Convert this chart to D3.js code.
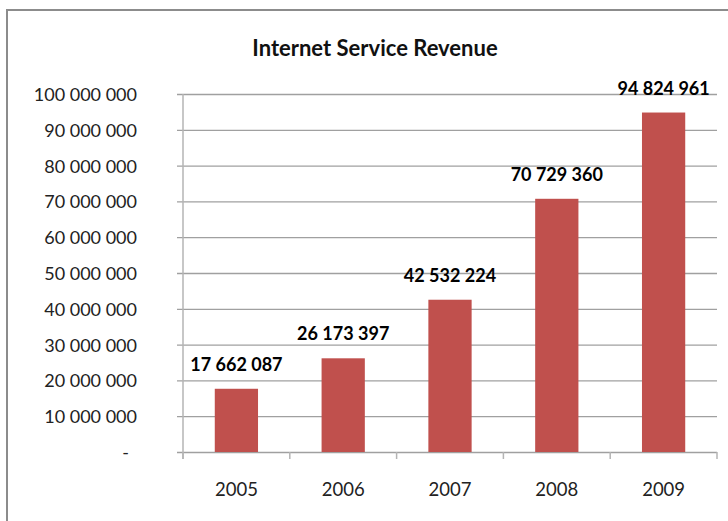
<!DOCTYPE html>
<html>
<head>
<meta charset="utf-8">
<script src="https://cdn.jsdelivr.net/npm/d3@7"></script>
<style>
  html, body { margin: 0; padding: 0; background: #fff; }
  svg { display: block; }
</style>
</head>
<body>
<svg id="chart" width="728" height="521"></svg>
<script>
// Revenue per year
const years = ["2005", "2006", "2007", "2008", "2009"];
const revenue = [17662087, 26173397, 42532224, 70729360, 94824961];
const yTicks = [0, 10000000, 20000000, 30000000, 40000000, 50000000,
                60000000, 70000000, 80000000, 90000000, 100000000];
const title = "Internet Service Revenue";

const svg = d3.select("#chart");
const W = 728, H = 521;
const plot = { left: 183, right: 717, top: 94, bottom: 452 };
const FONT = "Lato, 'Open Sans', sans-serif";

// thousands separated by spaces, zero shown as a dash
const fmt = v => v === 0 ? "-" : d3.format(",")(v).replace(/,/g, " ");

// chart frame
svg.append("path")
  .attr("d", `M7,${H + 2} L7,10 L${W + 2},10`)
  .attr("fill", "none")
  .attr("stroke", "#8c8c8c")
  .attr("stroke-width", 2);

svg.append("text")
  .attr("x", 375).attr("y", 56)
  .attr("text-anchor", "middle")
  .attr("font-family", FONT)
  .attr("font-weight", 700)
  .attr("font-size", 22)
  .attr("fill", "#111")
  .text(title);

const x = d3.scaleBand()
  .domain(years)
  .range([plot.left, plot.right])
  .paddingInner(0.595)
  .paddingOuter(0.2975);

const y = d3.scaleLinear()
  .domain([0, 100000000])
  .range([plot.bottom, plot.top]);

// value axis with gridlines
const yAxis = d3.axisLeft(y)
  .tickValues(yTicks)
  .tickSize(-(plot.right - plot.left))
  .tickSizeOuter(0)
  .tickPadding(0)
  .tickFormat(fmt);

const gy = svg.append("g")
  .attr("transform", `translate(${plot.left},0)`)
  .call(yAxis);
gy.select(".domain").remove();
gy.selectAll(".tick line")
  .attr("x1", -6)
  .attr("stroke", "#a0a0a0")
  .attr("stroke-width", 1.3);
gy.selectAll(".tick text")
  .attr("x", d => d === 0 ? -54 : -46)
  .attr("dy", "0.36em")
  .attr("font-family", FONT)
  .attr("font-size", 18)
  .attr("fill", "#222");

// vertical axis line
svg.append("line")
  .attr("x1", plot.left).attr("x2", plot.left)
  .attr("y1", plot.top).attr("y2", plot.bottom + 7)
  .attr("stroke", "#b4b4b4")
  .attr("stroke-width", 1.5);

// category axis
const xAxis = d3.axisBottom(x).tickSize(0).tickPadding(0);
const gx = svg.append("g")
  .attr("transform", `translate(0,${plot.bottom})`)
  .call(xAxis);
gx.select(".domain").remove();
gx.selectAll(".tick text")
  .attr("dy", 0)
  .attr("y", 44)
  .attr("font-family", FONT)
  .attr("font-size", 18.5)
  .attr("fill", "#222");

// category boundary ticks
const step = x.step();
const bounds = d3.range(years.length + 1).map(i => plot.left + i * step);
svg.append("g").selectAll("line")
  .data(bounds)
  .join("line")
  .attr("x1", d => d).attr("x2", d => d)
  .attr("y1", plot.bottom).attr("y2", plot.bottom + 7)
  .attr("stroke", "#b4b4b4")
  .attr("stroke-width", 1.5);

// bars
svg.append("g").selectAll("rect")
  .data(years)
  .join("rect")
  .attr("x", (d) => x(d))
  .attr("width", x.bandwidth())
  .attr("y", (d, i) => y(revenue[i]))
  .attr("height", (d, i) => plot.bottom - y(revenue[i]))
  .attr("fill", "#c0504d");

// value labels
svg.append("g").selectAll("text")
  .data(years)
  .join("text")
  .attr("x", d => x(d) + x.bandwidth() / 2)
  .attr("y", (d, i) => y(revenue[i]) - 18)
  .attr("text-anchor", "middle")
  .attr("font-family", FONT)
  .attr("font-weight", 700)
  .attr("font-size", 18)
  .attr("fill", "#000")
  .text((d, i) => fmt(revenue[i]));
</script>
</body>
</html>
